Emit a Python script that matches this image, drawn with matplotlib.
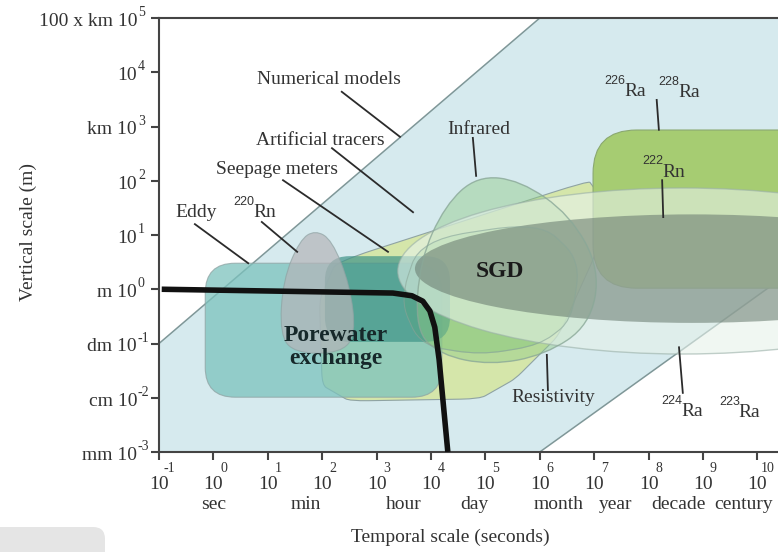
import numpy as np
import matplotlib
matplotlib.use("Agg")
import matplotlib.pyplot as plt
from matplotlib.path import Path
from matplotlib.patches import PathPatch, Ellipse, FancyBboxPatch, Polygon
from matplotlib.transforms import IdentityTransform

plt.rcParams['font.family'] = ['Liberation Serif', 'DejaVu Serif']

# axes: log10(seconds) vs log10(metres)
x_ticks = list(range(-1, 11))
y_ticks = list(range(-3, 6))
y_prefix = ['mm', 'cm', 'dm', 'm', '', '', 'km', '', '100 x km']
time_units = ['sec', 'min', 'hour', 'day', 'month', 'year', 'decade', 'century']
time_unit_pos = [0.0, 1.7, 3.5, 4.8, 6.35, 7.4, 8.55, 9.75]

# shapes (log10 s, log10 m)
numerical_x = [-1, -1, 6.0, 11.0, 11.0, 6.0]
numerical_y = [-3, -1, 5.0, 5.0, 0.6, -3.0]
tracers_x = [1.95, 2.25, 6.9, 7.05, 7.05, 6.35, 5.55, 4.9, 2.5, 2.0]
tracers_y = [-0.2, 0.5, 2.0, 1.8, 0.7, -0.85, -1.65, -2.02, -2.06, -1.77]
resist_x = [3.43, 3.8, 6.0, 6.74, 6.59, 6.0, 4.9, 3.8]
resist_y = [-0.2, 0.91, 1.24, 0.54, -0.57, -1.03, -1.21, -1.03]
infrared_x = [3.71, 3.8, 4.26, 4.85, 5.64, 6.56, 7.11, 6.92, 6.1, 5.09, 4.17]
infrared_y = [-0.75, 0.54, 1.55, 2.09, 2.01, 1.37, 0.36, -0.66, -1.21, -1.4, -1.21]
rn220_x = [1.22, 1.28, 1.59, 1.87, 2.18, 2.51, 2.62, 2.33, 1.5]
rn220_y = [-0.84, 0.17, 0.91, 1.09, 0.91, 0.08, -0.84, -1.18, -1.18]
eddy_box = (-0.15, -1.99, 4.35, 2.47)      # x0, y0, width, height
seepage_box = (2.05, -0.97, 2.3, 1.58)
rn222_box = (6.98, 0.02, 5.0, 2.915)
sgd_outer = (8.63, 0.336, 10.48, 3.06)     # cx, cy, width, height
sgd_inner = (8.8, 0.38, 10.19, 2.0)
porewater_x = [-0.95, 3.3, 3.65, 3.85, 3.98, 4.07, 4.15, 4.31]
porewater_y = [0.0, -0.07, -0.12, -0.22, -0.4, -0.7, -1.3, -3.0]

labels = ['Numerical models', 'Artificial tracers', 'Infrared', 'Seepage meters',
          'Eddy', 'Resistivity']
label_x = [2.125, 1.96, 4.88, 1.17, -0.32, 6.24]
label_y = [3.86, 2.75, 2.94, 2.2, 1.41, -2.0]
iso_mass = ['220', '226', '228', '222', '224', '223']
iso_name = ['Rn', 'Ra', 'Ra', 'Rn', 'Ra', 'Ra']
iso_x = [1.04, 7.85, 8.85, 8.55, 8.9, 9.96]
iso_y = [1.41, 3.64, 3.62, 2.16, -2.26, -2.28]
leader_x0 = [2.36, 2.18, 4.77, 1.28, -0.34, 0.89, 8.15, 8.25, 6.13, 8.56]
leader_y0 = [3.64, 2.6, 2.79, 2.01, 1.2, 1.24, 3.49, 2.01, -1.21, -1.07]
leader_x1 = [3.43, 3.67, 4.83, 3.21, 0.64, 1.54, 8.19, 8.27, 6.15, 8.63]
leader_y1 = [2.81, 1.42, 2.09, 0.69, 0.48, 0.69, 2.94, 1.33, -1.86, -1.91]


def rounded_path(xs, ys, r):
    pts = np.column_stack([xs, ys])
    n = len(pts)
    verts, codes = [], []
    for i in range(n):
        p, c, nx = pts[i - 1], pts[i], pts[(i + 1) % n]
        verts += [c + r * (p - c), c, c + r * (nx - c)]
        codes += [Path.LINETO, Path.CURVE3, Path.CURVE3]
    codes[0] = Path.MOVETO
    verts.append(verts[0])
    codes.append(Path.CLOSEPOLY)
    return Path(verts, codes)


fig = plt.figure(figsize=(7.78, 5.52), dpi=100)
ax = fig.add_axes([159 / 778, 100 / 552, 619 / 778, 434 / 552])
ax.set_xlim(-1, 10.38)
ax.set_ylim(-3, 5)

edge = '#8fa3a3'
# numerical models band
ax.add_patch(Polygon(np.column_stack([numerical_x, numerical_y]), closed=True,
                     facecolor='#d6eaee', edgecolor='none', zorder=1))
ax.plot(numerical_x[1:3], numerical_y[1:3], color='#7f9798', lw=1.1, zorder=1.5)
ax.plot(numerical_x[4:6], numerical_y[4:6], color='#7f9798', lw=1.1, zorder=1.5)

ax.add_patch(PathPatch(rounded_path(tracers_x, tracers_y, 0.15), facecolor='#d5e6aa',
                       edgecolor=edge, lw=0.8, zorder=2))
x0, y0, w, h = eddy_box
ax.add_patch(FancyBboxPatch((x0, y0), w, h, boxstyle='round,pad=0,rounding_size=0.55',
                            facecolor='#7cc2bd', alpha=0.75, edgecolor=edge, lw=0.8, zorder=3))
ax.add_patch(PathPatch(rounded_path(resist_x, resist_y, 0.4), facecolor='#8cc97c',
                       alpha=0.55, edgecolor=edge, lw=0.8, zorder=4))
x0, y0, w, h = seepage_box
ax.add_patch(FancyBboxPatch((x0, y0), w, h, boxstyle='round,pad=0,rounding_size=0.45',
                            facecolor='#3f9488', alpha=0.7, edgecolor='none', zorder=5))
ax.add_patch(PathPatch(rounded_path(rn220_x, rn220_y, 0.5), facecolor='#b4b4b8',
                       alpha=0.7, edgecolor=edge, lw=0.8, zorder=6))
ax.add_patch(PathPatch(rounded_path(infrared_x, infrared_y, 0.5), facecolor='#8fca86',
                       alpha=0.45, edgecolor='none', zorder=7))
x0, y0, w, h = rn222_box
ax.add_patch(FancyBboxPatch((x0, y0), w, h, boxstyle='round,pad=0,rounding_size=0.8',
                            facecolor='#a6cc72', edgecolor='#8aa870', lw=0.8, zorder=8))
cx, cy, w, h = sgd_outer
ax.add_patch(Ellipse((cx, cy), w, h, facecolor='#e6f2ea', alpha=0.6,
                     edgecolor='#9ab0a8', lw=1, zorder=9))
cx, cy, w, h = sgd_inner
ax.add_patch(Ellipse((cx, cy), w, h, facecolor='#687a6e', alpha=0.56,
                     edgecolor='none', zorder=10))
# outlines showing through
ax.add_patch(PathPatch(rounded_path(infrared_x, infrared_y, 0.5), facecolor='none',
                       edgecolor='#8aa898', lw=1, alpha=0.8, zorder=11))
ax.add_patch(PathPatch(rounded_path(resist_x, resist_y, 0.4), facecolor='none',
                       edgecolor='#8aa898', lw=0.8, alpha=0.6, zorder=11))

ax.plot(porewater_x, porewater_y, color='#111111', lw=4, solid_capstyle='butt',
        solid_joinstyle='round', zorder=12)

txt = '#333333'
for i in range(len(leader_x0)):
    ax.plot([leader_x0[i], leader_x1[i]], [leader_y0[i], leader_y1[i]],
            color='#2b2b2b', lw=1.3, zorder=13)
for s, lx, ly in zip(labels, label_x, label_y):
    ax.text(lx, ly, s, fontsize=14, color=txt, ha='center', va='center', zorder=14)
for m, nm, lx, ly in zip(iso_mass, iso_name, iso_x, iso_y):
    ax.text(lx - 0.28, ly + 0.2, m, fontsize=9, family='Liberation Sans', color=txt,
            ha='right', va='center', zorder=14)
    ax.text(lx - 0.3, ly, nm, fontsize=14, color=txt, ha='left', va='center', zorder=14)

ax.text(2.25, -1.07, 'Porewater\nexchange', fontsize=17, fontweight='bold',
        color='#16282a', ha='center', va='center', linespacing=1.15, zorder=14)
ax.text(5.27, 0.32, 'SGD', fontsize=17, fontweight='bold', color='#1a1a1a',
        ha='center', va='center', zorder=14)

# axes styling
for side in ['left', 'bottom', 'top']:
    ax.spines[side].set_color('#444444')
    ax.spines[side].set_linewidth(1.5)
ax.spines['right'].set_visible(False)
ax.set_xticks(x_ticks)
ax.set_yticks(y_ticks)
ax.tick_params(direction='out', length=6, width=1.5, color='#444444',
               labelbottom=False, labelleft=False)

xt = ax.get_xaxis_transform()
for t in x_ticks:
    ax.text(t, -0.076, '10', transform=xt, fontsize=14, color=txt, ha='center', va='center')
    ax.text(t + 0.19, -0.037, str(t), transform=xt, fontsize=10, color=txt,
            ha='center', va='center')
for u, p in zip(time_units, time_unit_pos):
    ax.text(p, -0.122, u, transform=xt, fontsize=14, color=txt, ha='center', va='center')
ax.text(0.47, -0.196, 'Temporal scale (seconds)', transform=ax.transAxes, fontsize=14,
        color=txt, ha='center', va='center')

yt = ax.get_yaxis_transform()
for t, pre in zip(y_ticks, y_prefix):
    lab = (pre + ' 10') if pre else '10'
    ax.text(-0.0355, t - 0.06, lab, transform=yt, fontsize=14, color=txt,
            ha='right', va='center')
    ax.text(-0.034, t + 0.1, str(t), transform=yt, fontsize=10, color=txt,
            ha='left', va='center')

fig.text(28 / 778, 1 - 232 / 552, 'Vertical scale (m)', rotation=90, fontsize=14,
         color=txt, ha='center', va='center')

# grey rounded tab at bottom left of the screenshot
fig.add_artist(FancyBboxPatch((-20, -20), 125, 45, boxstyle='round,pad=0,rounding_size=12',
                              transform=IdentityTransform(), facecolor='#e5e5e5',
                              edgecolor='none'))

fig.savefig('out.png', dpi=100)
